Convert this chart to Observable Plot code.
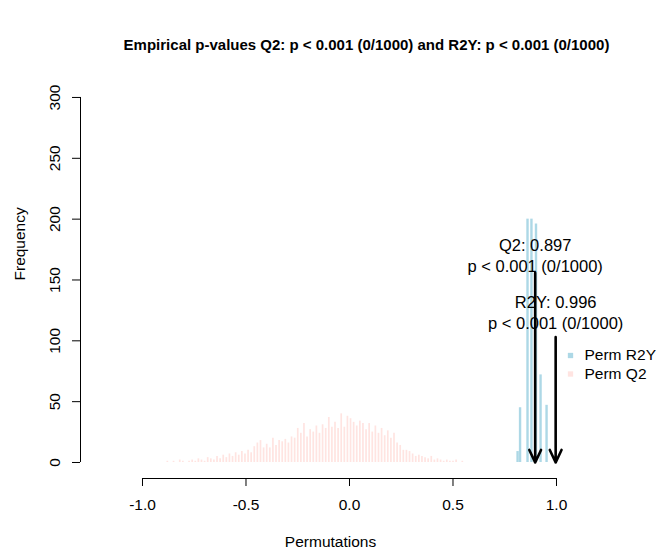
<!DOCTYPE html>
<html>
<head>
<meta charset="utf-8">
<script src="https://cdn.jsdelivr.net/npm/d3@7"></script>
<script src="https://cdn.jsdelivr.net/npm/@observablehq/plot@0.6"></script>
<style>
  html, body { margin: 0; padding: 0; background: white; }
  #chart svg { display: block; }
</style>
</head>
<body>
<div id="chart"></div>
<script>
// ---- data ----
const titleText = "Empirical p-values Q2: p < 0.001 (0/1000) and R2Y: p < 0.001 (0/1000)";

// Permuted Q2 distribution (bin position, frequency)
const q2Bins = [-0.88, -0.865, -0.85, -0.835, -0.82, -0.805, -0.79, -0.775, -0.76, -0.745,
  -0.73, -0.715, -0.70, -0.685, -0.67, -0.655, -0.64, -0.625, -0.61, -0.595,
  -0.58, -0.565, -0.55, -0.535, -0.52, -0.505, -0.49, -0.475, -0.46, -0.445,
  -0.43, -0.415, -0.40, -0.385, -0.37, -0.355, -0.34, -0.325, -0.31, -0.295,
  -0.28, -0.265, -0.25, -0.235, -0.22, -0.205, -0.19, -0.175, -0.16, -0.145,
  -0.13, -0.115, -0.10, -0.085, -0.07, -0.055, -0.04, -0.025, -0.01, 0.005,
  0.02, 0.035, 0.05, 0.065, 0.08, 0.095, 0.11, 0.125, 0.14, 0.155,
  0.17, 0.185, 0.20, 0.215, 0.23, 0.245, 0.26, 0.275, 0.29, 0.305,
  0.32, 0.335, 0.35, 0.365, 0.38, 0.395, 0.41, 0.425, 0.44, 0.455,
  0.47, 0.485, 0.50, 0.515, 0.53, 0.545];
const q2Counts = [1, 0, 1, 0, 2, 1, 0, 1, 2, 1,
  3, 2, 1, 4, 3, 2, 5, 3, 6, 4,
  7, 5, 8, 6, 9, 7, 10, 8, 13, 16,
  18, 12, 15, 12, 20, 14, 18, 17, 19, 16,
  21, 20, 28, 24, 32, 21, 27, 25, 30, 24,
  31, 28, 37, 29, 33, 28, 40, 29, 38, 36,
  33, 30, 34, 32, 27, 32, 25, 30, 24, 28,
  22, 26, 20, 24, 16, 14, 10, 10, 9, 7,
  5, 6, 5, 4, 3, 5, 2, 3, 2, 1,
  2, 1, 1, 2, 0, 1];

// Permuted R2Y distribution
const r2yBins = [0.812, 0.824, 0.860, 0.879, 0.901, 0.923, 0.952];
const r2yCounts = [9, 45, 200, 200, 196, 72, 47];

// Observed values (arrows) and their annotation anchors
const obsNames = ["Q2", "R2Y"];
const obsValues = [0.897, 0.996];
const obsArrowTop = [156, 103];
const obsLabelY = [161, 114];
const obsPText = ["p < 0.001 (0/1000)", "p < 0.001 (0/1000)"];

// Axes and legend
const xTicks = [-1.0, -0.5, 0.0, 0.5, 1.0];
const yTicks = [0, 50, 100, 150, 200, 250, 300];
const legendLabels = ["Perm R2Y", "Perm Q2"];
const legendColors = ["#ADD8E6", "#FFE4E1"];

// ---- build tables ----
const q2Data = q2Bins.map((x, i) => ({x, n: q2Counts[i]}));
const r2yData = r2yBins.map((x, i) => ({x, n: r2yCounts[i]}));
const obsData = obsNames.map((name, i) => ({
  x: obsValues[i], top: obsArrowTop[i], ly: obsLabelY[i],
  line1: `${name}: ${obsValues[i].toFixed(3)}`, line2: obsPText[i]
}));

const xDomain = [-1.2995, 1.2126];
const yDomain = [-13.15, 312.3];
const font = "'Liberation Sans', Arial, Helvetica, sans-serif";
const fs = 15.5;

const chart = Plot.plot({
  width: 656,
  height: 551,
  marginLeft: 80,
  marginRight: 56,
  marginTop: 82,
  marginBottom: 73,
  style: {fontFamily: font, fontSize: `${fs}px`, background: "white", overflow: "visible", color: "black"},
  x: {domain: xDomain},
  y: {domain: yDomain},
  marks: [
    Plot.ruleX(r2yData, {x: "x", y1: 0, y2: "n", stroke: legendColors[0], strokeWidth: 2.4}),
    Plot.ruleX(q2Data, {x: "x", y1: 0, y2: "n", stroke: legendColors[1], strokeWidth: 1.7}),
    // axes
    Plot.ruleY([yDomain[0]], {x1: xTicks[0], x2: xTicks[xTicks.length - 1], stroke: "black"}),
    Plot.axisX(xTicks, {tickSize: 8, tickPadding: 12, tickFormat: d => d.toFixed(1), label: null, fontSize: fs, stroke: "black"}),
    Plot.ruleX([xDomain[0]], {y1: yTicks[0], y2: yTicks[yTicks.length - 1], stroke: "black"}),
    Plot.axisY(yTicks, {tickSize: 8, tickFormat: () => "", label: null, stroke: "black"}),
    Plot.text(yTicks, {x: xDomain[0], y: d => d, text: d => String(d), rotate: -90, dx: -25, fontSize: fs}),
    Plot.text(["Frequency"], {frameAnchor: "left", rotate: -90, dx: -60, lineAnchor: "middle", fontSize: fs}),
    Plot.text(["Permutations"], {frameAnchor: "bottom", dy: 64, dx: -10, lineAnchor: "middle", fontSize: fs}),
    // observed arrows and labels
    Plot.arrow(obsData, {x1: "x", x2: "x", y1: "top", y2: 0, stroke: "black", strokeWidth: 2.6, headLength: 8, headAngle: 50}),
    Plot.text(obsData, {x: "x", y: "ly", text: "line2", fontSize: 16.5}),
    Plot.text(obsData, {x: "x", y: "ly", text: "line1", dy: -21, fontSize: 16.5}),
    // legend
    ...legendLabels.flatMap((lab, i) => [
      Plot.dot([lab], {frameAnchor: "top-right", dx: -30, dy: 273 + 18.5 * i, symbol: "square", r: 3, fill: legendColors[i], stroke: null}),
      Plot.text([lab], {frameAnchor: "top-right", dx: -16, dy: 273 + 18.5 * i, text: d => d, textAnchor: "start", lineAnchor: "middle", fontSize: fs})
    ]),
    // title
    Plot.text([titleText], {frameAnchor: "top", dy: -37, dx: 26, lineAnchor: "middle", fontWeight: "bold", fontSize: 15})
  ]
});
document.getElementById("chart").appendChild(chart);
</script>
</body>
</html>
